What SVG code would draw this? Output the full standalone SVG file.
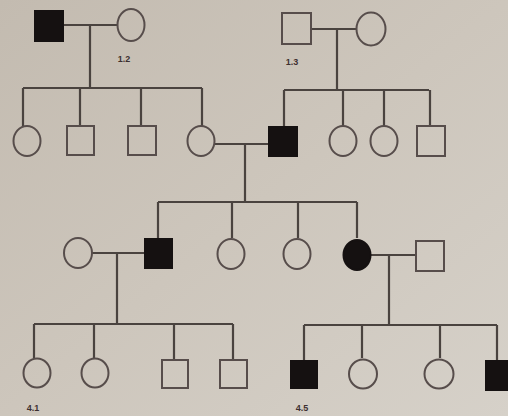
<svg xmlns="http://www.w3.org/2000/svg" width="508" height="416" viewBox="0 0 508 416">
<defs>
<linearGradient id="bg" x1="0" y1="0" x2="1" y2="1">
<stop offset="0" stop-color="#c3bbb0"/>
<stop offset="0.5" stop-color="#cdc6bc"/>
<stop offset="1" stop-color="#d6d1c9"/>
</linearGradient>
<style>
.o{fill:none;stroke:#574d4b;stroke-width:2}
.f{fill:#151111;stroke:#151111;stroke-width:2}
.c path{fill:none;stroke:#4a433f;stroke-width:2.2}
.l{font-family:"Liberation Sans",Arial,sans-serif;font-size:9px;font-weight:bold;fill:#3d3030;text-anchor:middle}
</style>
</defs>
<rect width="508" height="416" fill="url(#bg)"/>
<g class="c" id="connectors">
<path d="M63 25H118M90 25V88M23 88H202M23 88V126M80 88V126M141 88V126M202 88V126"/>
<path d="M311 29H356M337 29V90M284 90H429M284 90V126M343 90V126M384 90V126M430 90V126"/>
<path d="M215 144H269M245 144V202M158 202H357M158 202V238M232 202V238M298 202V238M357 202V238"/>
<path d="M92 253H145M117 253V324M34 324H233M34 324V358M94 324V358M174 324V360M233 324V360"/>
<path d="M371 255H416M389 255V325M304 325H497M304 325V360M362 325V358M440 325V358M497 325V360"/>
</g>
<g id="n1_1"><rect class="f" x="35" y="11" width="28" height="30"/></g>
<g id="n1_2"><ellipse class="o" cx="131" cy="25" rx="13.5" ry="16"/><text class="l" x="124" y="62">1.2</text></g>
<g id="n1_3"><rect class="o" x="282" y="13" width="29" height="31"/><text class="l" x="292" y="65">1.3</text></g>
<g id="n1_4"><ellipse class="o" cx="371" cy="29" rx="14.5" ry="16.5"/></g>
<g id="n2_1"><ellipse class="o" cx="27" cy="141" rx="13.5" ry="15"/></g>
<g id="n2_2"><rect class="o" x="67" y="126" width="27" height="29"/></g>
<g id="n2_3"><rect class="o" x="128" y="126" width="28" height="29"/></g>
<g id="n2_4"><ellipse class="o" cx="201" cy="141" rx="13.5" ry="15"/></g>
<g id="n2_5"><rect class="f" x="269" y="127" width="28" height="29"/></g>
<g id="n2_6"><ellipse class="o" cx="343" cy="141" rx="13.5" ry="15"/></g>
<g id="n2_7"><ellipse class="o" cx="384" cy="141" rx="13.5" ry="15"/></g>
<g id="n2_8"><rect class="o" x="417" y="126" width="28" height="30"/></g>
<g id="n3_1"><ellipse class="o" cx="78" cy="253" rx="14" ry="15"/></g>
<g id="n3_2"><rect class="f" x="145" y="239" width="27" height="29"/></g>
<g id="n3_3"><ellipse class="o" cx="231" cy="254" rx="13.5" ry="15"/></g>
<g id="n3_4"><ellipse class="o" cx="297" cy="254" rx="13.5" ry="15"/></g>
<g id="n3_5"><ellipse class="f" cx="357" cy="255" rx="13.5" ry="15"/></g>
<g id="n3_6"><rect class="o" x="416" y="241" width="28" height="30"/></g>
<g id="n4_1"><ellipse class="o" cx="37" cy="373" rx="13.5" ry="14.5"/><text class="l" x="33" y="411">4.1</text></g>
<g id="n4_2"><ellipse class="o" cx="95" cy="373" rx="13.5" ry="14.5"/></g>
<g id="n4_3"><rect class="o" x="162" y="360" width="26" height="28"/></g>
<g id="n4_4"><rect class="o" x="220" y="360" width="27" height="28"/></g>
<g id="n4_5"><rect class="f" x="291" y="361" width="26" height="27"/><text class="l" x="302" y="411">4.5</text></g>
<g id="n4_6"><ellipse class="o" cx="363" cy="374" rx="14" ry="14.5"/></g>
<g id="n4_7"><ellipse class="o" cx="439" cy="374" rx="14.5" ry="14.5"/></g>
<g id="n4_8"><rect class="f" x="486" y="361" width="28" height="29"/></g>
</svg>
